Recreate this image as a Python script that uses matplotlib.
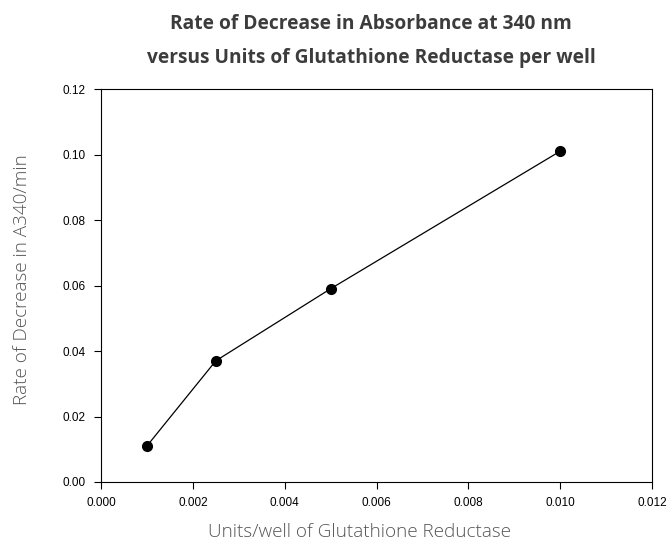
import numpy as np
import matplotlib.pyplot as plt
from matplotlib.ticker import FormatStrFormatter

# Units of glutathione reductase per well vs rate of decrease in A340
units = [0.001, 0.0025, 0.005, 0.010]
rate = [0.011, 0.037, 0.059, 0.101]

x_ticks = [0.000, 0.002, 0.004, 0.006, 0.008, 0.010, 0.012]
y_ticks = [0.00, 0.02, 0.04, 0.06, 0.08, 0.10, 0.12]

title_lines = ['Rate of Decrease in Absorbance at 340 nm',
               'versus Units of Glutathione Reductase per well']

W, H = 668, 542
fig = plt.figure(figsize=(W / 100, H / 100), dpi=100)
ax = fig.add_axes([101 / W, 60 / H, 551 / W, 393 / H])

ax.plot(units, rate, color='black', linewidth=0.9, marker='o',
        markersize=7, markerfacecolor='black', markeredgecolor='black')

ax.set_xlim(0, 0.012)
ax.set_ylim(0, 0.12)
ax.set_xticks(x_ticks)
ax.set_yticks(y_ticks)
ax.xaxis.set_major_formatter(FormatStrFormatter('%.3f'))
ax.yaxis.set_major_formatter(FormatStrFormatter('%.2f'))
ax.tick_params(direction='out', length=5, width=0.8, pad=6, labelsize=8.5)
for lab in ax.get_xticklabels() + ax.get_yticklabels():
    lab.set_fontfamily('Liberation Sans')
for s in ax.spines.values():
    s.set_linewidth(0.8)

# axis labels placed in figure pixels
fig.text(359 / W, 1 - 532 / H, 'Units/well of Glutathione Reductase',
         ha='center', va='center', fontsize=13.6, family='Open Sans',
         fontweight='light', color='#555555')
fig.text(22 / W, 1 - 280 / H, 'Rate of Decrease in A340/min',
         ha='center', va='center', rotation=90, fontsize=13.6,
         family='Open Sans', fontweight='light', color='#555555')

for line, ypix in zip(title_lines, [24, 58]):
    fig.text(371 / W, 1 - ypix / H, line, ha='center', va='center',
             fontsize=13.8, fontweight='bold', family='Open Sans',
             color='#3c3c3c')

fig.savefig('out.png', dpi=100)
